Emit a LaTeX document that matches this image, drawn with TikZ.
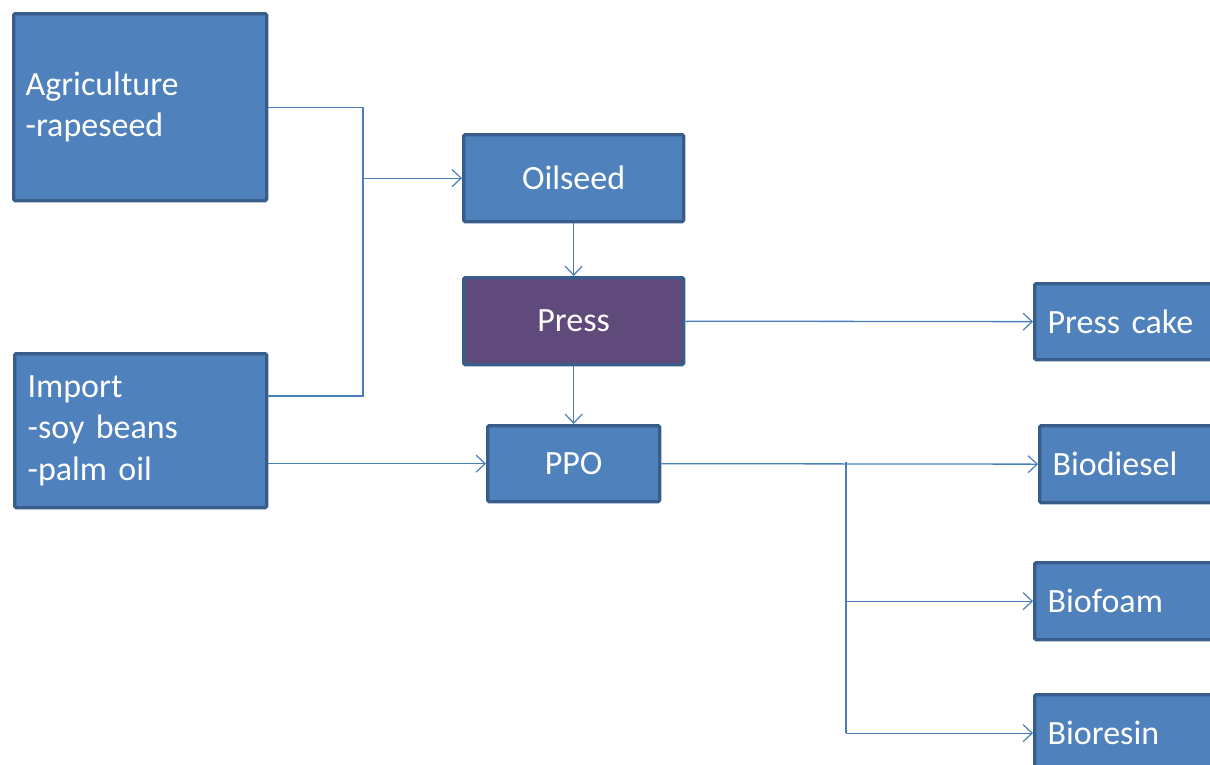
\documentclass[tikz,border=0pt]{standalone}
\usepackage{fontspec}
\setmainfont{Carlito}
\usetikzlibrary{arrows.meta}
\definecolor{boxfill}{HTML}{4F81BD}
\definecolor{boxline}{HTML}{385D8A}
\definecolor{pressfill}{HTML}{604A7B}
\definecolor{connc}{HTML}{4A7EBB}
\begin{document}
\begin{tikzpicture}[x=1pt,y=-1pt,
  box/.style={draw=boxline, fill=boxfill, line width=3.3pt, rounded corners=1.5pt,
    text=white, font=\fontsize{34}{41.5}\selectfont, inner sep=0pt, anchor=north west},
  conn/.style={draw=connc, line width=1.3pt},
  arr/.style={conn, -{Straight Barb[length=9pt,width=17pt,line width=1.2pt]}}]
\useasboundingbox (0,0) rectangle (1210,764);
\node[box, minimum width=253pt, minimum height=187pt, text width=229pt, align=left] (agri) at (12,12) {Agriculture\\-rapeseed};
\node[box, minimum width=252pt, minimum height=154pt, text width=226pt, align=left] (import) at (13,352) {Import\\-soy beans\\-palm oil};
\node[box, minimum width=220pt, minimum height=87pt] (oilseed) at (462,133) {Oilseed};
\node[box, fill=pressfill, minimum width=220pt, minimum height=87pt] (press) at (462,276) {Press};
\node[box, minimum width=172pt, minimum height=76pt] (ppo) at (486,424) {PPO};
\node[box, minimum width=207pt, minimum height=76pt, text width=181pt, align=left] (cake) at (1033,282) {Press cake};
\node[box, minimum width=207pt, minimum height=77pt, text width=181pt, align=left] (diesel) at (1038,424) {Biodiesel};
\node[box, minimum width=207pt, minimum height=77pt, text width=181pt, align=left] (foam) at (1033,561) {Biofoam};
\node[box, minimum width=207pt, minimum height=77pt, text width=181pt, align=left] (resin) at (1033,693) {Bioresin};
\coordinate (j1) at (363,396);
\coordinate (b) at (846,462);
\draw[conn] (agri.east) -| (j1) -- (import.east |- j1);
\draw[arr] (j1 |- oilseed.west) -- (oilseed.west);
\draw[arr] (oilseed.south) -- (press.north);
\draw[arr] (press.south) -- (ppo.north);
\draw[arr] (press.east) -- (cake.west);
\draw[arr] (import.east |- ppo.west) -- (ppo.west);
\draw[arr] (ppo.east) -- (diesel.west);
\draw[conn] (b) -- (b |- resin.west);
\draw[arr] (b |- foam.west) -- (foam.west);
\draw[arr] (b |- resin.west) -- (resin.west);
\end{tikzpicture}
\end{document}
